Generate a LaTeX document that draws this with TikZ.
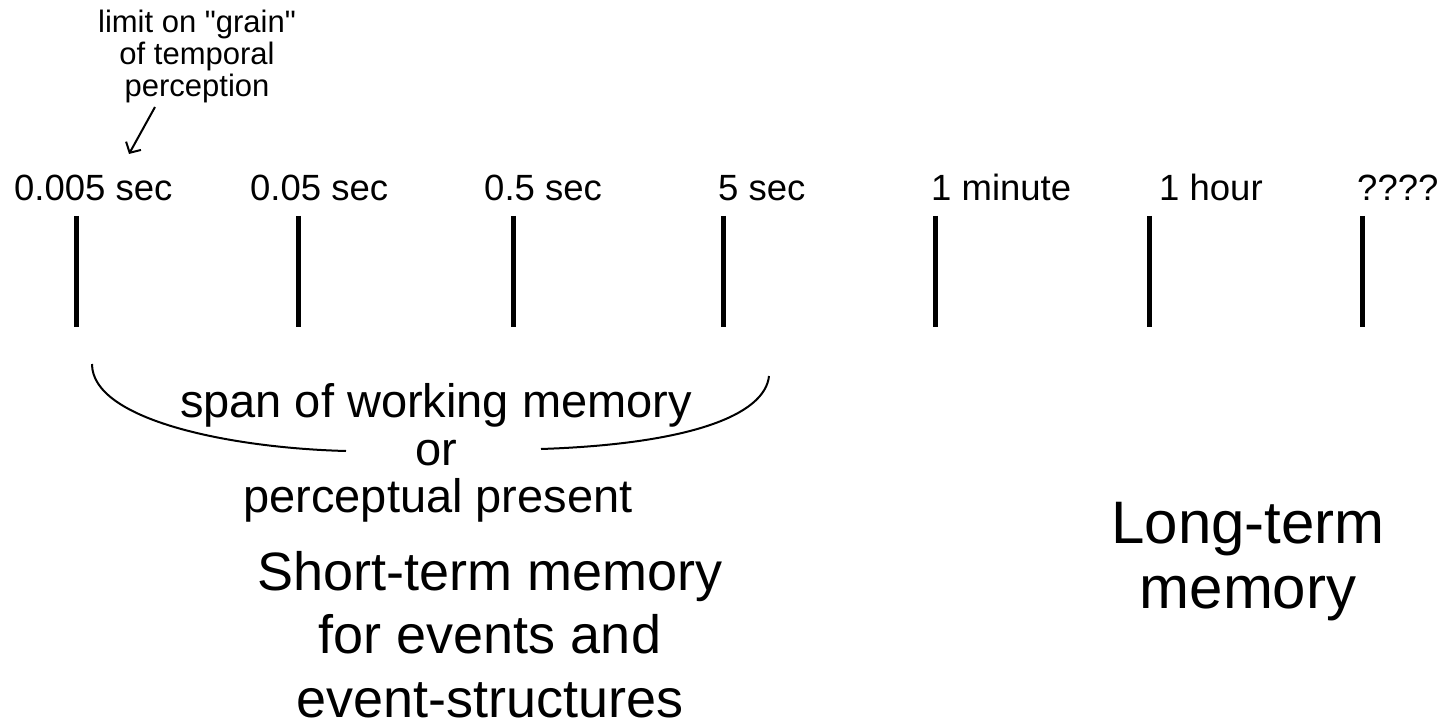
\documentclass[tikz,border=0pt]{standalone}
\usepackage{fontspec}
\setmainfont{Liberation Sans}
\usetikzlibrary{arrows.meta}
\begin{document}
\begin{tikzpicture}[x=1pt,y=-1pt,
  txt/.style={inner sep=0pt,anchor=base},
  ticklabel/.style={inner sep=0pt,anchor=base west,font=\fontsize{36.5}{40}\selectfont},
  tickline/.style={line width=5pt},
  notefont/.style={txt,font=\fontsize{31}{32}\selectfont},
  spanfont/.style={txt,font=\fontsize{47}{48}\selectfont},
  bigfont/.style={txt,font=\fontsize{54}{62}\selectfont},
  longfont/.style={txt,font=\fontsize{60}{65}\selectfont},
  thin/.style={line width=2pt}]
\useasboundingbox (0,0) rectangle (1447,727);

% time-scale labels
\node[ticklabel] (l1) at (14,201) {0.005 sec};
\node[ticklabel] (l2) at (250,201) {0.05 sec};
\node[ticklabel] (l3) at (484,201) {0.5 sec};
\node[ticklabel] (l4) at (718,201) {5 sec};
\node[ticklabel] (l5) at (931,201) {1 minute};
\node[ticklabel] (l6) at (1159,201) {1 hour};
\node[ticklabel] (l7) at (1357,201) {????};

% tick marks
\foreach \x [count=\i] in {76,298,513,723,935,1149,1362}{
  \coordinate (t\i a) at (\x,216);
  \coordinate (t\i b) at (\x,327);
  \draw[tickline] (t\i a) -- (t\i b);
}

% note on temporal grain
\node[notefont] (n1) at (197,33) {limit on \textquotedbl grain\textquotedbl};
\node[notefont] (n2) at (197,65) {of temporal};
\node[notefont] (n3) at (197,97) {perception};
\coordinate (arrS) at (155,107);
\coordinate (arrE) at (129,154);
\draw[thin,-{Straight Barb[length=8pt,width=17pt,line width=2pt]}] (arrS) -- (arrE);

% brace under the first four ticks
\coordinate (bl) at (92,364);
\coordinate (bm1) at (346,451);
\coordinate (bm2) at (541,449);
\coordinate (br) at (769,376);
\draw[thin] (bl) .. controls (92,420) and (230,448) .. (bm1);
\draw[thin] (bm2) .. controls (690,444) and (765,415) .. (br);

\node[spanfont] (s1) at (436,417) {span of working memory};
\node[spanfont] (s2) at (436,465) {or};
\node[spanfont] (s3) at (438,512) {perceptual present};

% memory headings
\node[bigfont] (m1) at (490,590) {Short-term memory};
\node[bigfont] (m2) at (490,653) {for events and};
\node[bigfont] (m3) at (490,717) {event-structures};

\node[longfont] (lt1) at (1248,543) {Long-term};
\node[longfont] (lt2) at (1248,608) {memory};
\end{tikzpicture}
\end{document}
